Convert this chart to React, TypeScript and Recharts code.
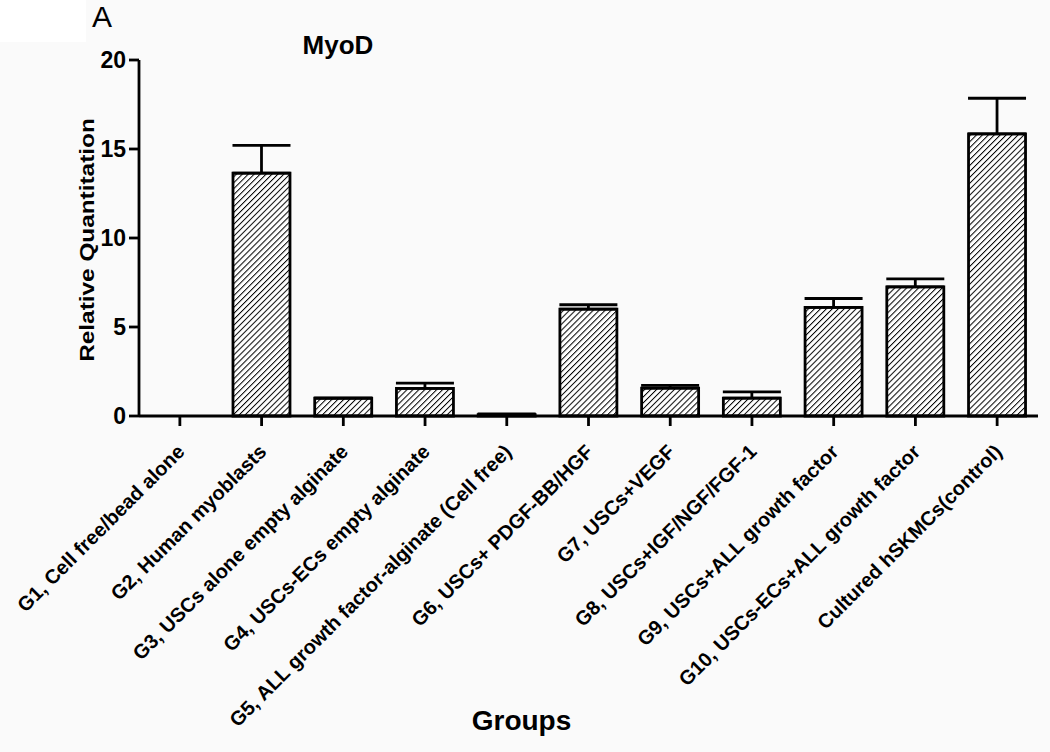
import React from "react";
import { BarChart, Bar, XAxis, YAxis, ErrorBar } from "recharts";

const groups = [
  "G1, Cell free/bead alone",
  "G2, Human myoblasts",
  "G3, USCs alone empty alginate",
  "G4, USCs-ECs empty alginate",
  "G5, ALL growth factor-alginate (Cell free)",
  "G6, USCs+ PDGF-BB/HGF",
  "G7, USCs+VEGF",
  "G8, USCs+IGF/NGF/FGF-1",
  "G9, USCs+ALL growth factor",
  "G10, USCs-ECs+ALL growth factor",
  "Cultured hSKMCs(control)",
];
const means = [0, 13.65, 1.0, 1.55, 0.08, 6.0, 1.57, 1.0, 6.1, 7.25, 15.85];
const sems = [0, 1.55, 0, 0.3, 0.04, 0.25, 0.15, 0.35, 0.5, 0.45, 2.0];
const yTicks = [0, 5, 10, 15, 20];

const FONT = "'Liberation Sans', Arial, Helvetica, sans-serif";

const data = groups.map((g, i) => ({ group: g, value: means[i], err: [0, sems[i]] }));

const XTick = (props: any) => {
  const { x, y, payload } = props;
  return (
    <g transform={`translate(${x + 6},${y + 25})`}>
      <text
        x={0}
        y={0}
        textAnchor="end"
        transform="rotate(-45)"
        fontFamily={FONT}
        fontWeight="bold"
        fontSize={20}
        fill="#000"
      >
        {payload.value}
      </text>
    </g>
  );
};

// y-axis title, a bit stretched along its length like the original figure
const YLabel = (props: any) => {
  const { viewBox } = props;
  const cy = viewBox.y + viewBox.height / 2;
  return (
    <text
      transform={`translate(94,${cy + 2}) rotate(-90) scale(1.16,1)`}
      textAnchor="middle"
      fontFamily={FONT}
      fontWeight="bold"
      fontSize={21}
      fill="#000"
    >
      Relative Quantitation
    </text>
  );
};

const App: React.FC = () => {
  return (
    <div style={{ position: "absolute", left: 0, top: 0, width: 1050, height: 752, background: "#fafafa" }}>
      <svg width={0} height={0} style={{ position: "absolute" }}>
        <defs>
          <pattern id="hatch" patternUnits="userSpaceOnUse" width={4.2} height={4.2} patternTransform="rotate(45)">
            <rect width={4.2} height={4.2} fill="#fff" />
            <line x1={0} y1={0} x2={0} y2={4.2} stroke="#000" strokeWidth={2} />
          </pattern>
        </defs>
      </svg>
      <div style={{ position: "absolute", left: 0, top: 0, width: 86, height: 42, background: "#fff" }} />
      <div style={{ position: "absolute", left: 92, top: 0, fontFamily: FONT, fontSize: 30, color: "#000" }}>A</div>
      <div
        style={{
          position: "absolute",
          left: 238,
          width: 200,
          top: 30,
          textAlign: "center",
          fontFamily: FONT,
          fontWeight: "bold",
          fontSize: 26,
          color: "#000",
        }}
      >
        MyoD
      </div>
      <BarChart
        width={1050}
        height={752}
        data={data}
        margin={{ top: 60, right: 12, bottom: 0, left: 0 }}
        barCategoryGap="15%"
        style={{ position: "absolute", left: 0, top: 0 }}
      >
        <XAxis
          dataKey="group"
          interval={0}
          height={336}
          tick={<XTick />}
          tickSize={10}
          axisLine={{ stroke: "#000", strokeWidth: 2.8 }}
          tickLine={{ stroke: "#000", strokeWidth: 2.8 }}
          label={{
            value: "Groups",
            position: "center",
            dx: -67,
            dy: 136,
            style: { fontFamily: FONT, fontWeight: "bold", fontSize: 28, fill: "#000" },
          }}
        />
        <YAxis
          domain={[0, 20]}
          ticks={yTicks}
          width={139}
          tickSize={10}
          tickMargin={3}
          axisLine={{ stroke: "#000", strokeWidth: 2.8 }}
          tickLine={{ stroke: "#000", strokeWidth: 2.8 }}
          tick={{ fontFamily: FONT, fontWeight: "bold", fontSize: 23, fill: "#000" }}
          label={{ content: <YLabel /> }}
        />
        <Bar dataKey="value" fill="url(#hatch)" stroke="#000" strokeWidth={2.8} isAnimationActive={false}>
          <ErrorBar dataKey="err" width={29} stroke="#000" strokeWidth={2.8} direction="y" />
        </Bar>
      </BarChart>
    </div>
  );
};

export default App;
